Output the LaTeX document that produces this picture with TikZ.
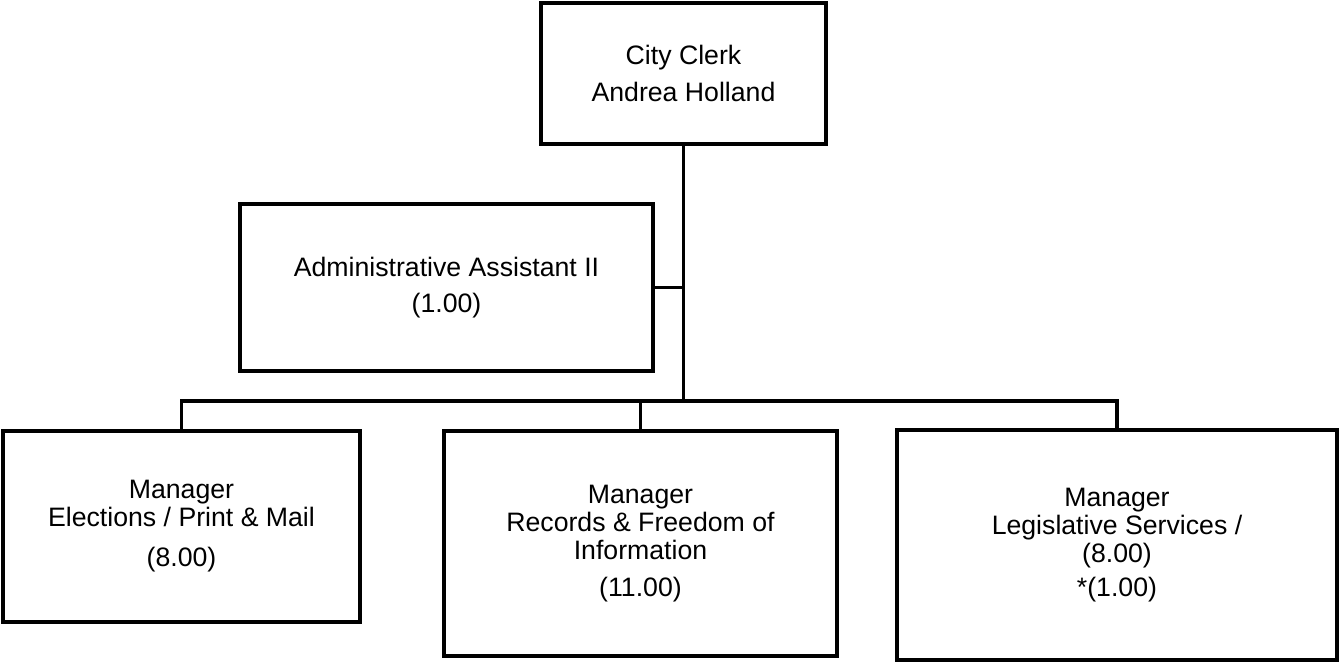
\documentclass[tikz,border=0pt]{standalone}
\usepackage{fontspec}
\setmainfont{Liberation Sans}
\usepackage{tikz}
\usetikzlibrary{positioning,calc}

\begin{document}
\begin{tikzpicture}[
  x=0.75pt, y=-0.75pt,
  post/.style={draw, line width=2.8pt, rectangle, inner sep=0pt, align=center,
    font=\fontsize{20}{21}\selectfont},
  link/.style={line width=2.8pt}]
\useasboundingbox (0,0) rectangle (1340,662);
\node[post, minimum width=213.75pt, minimum height=105.75pt] (clerk) at (683.5,73.5) {City Clerk\\[6.75pt]Andrea Holland};
\node[post, minimum width=309.75pt, minimum height=125.25pt] (admin) at (446.5,287.5) {Administrative Assistant II\\[6pt](1.00)};
\node[post, minimum width=267.75pt, minimum height=143.25pt] (elec) at (181.5,526.5) {Manager\\Elections / Print \& Mail\\[9pt](8.00)};
\node[post, minimum width=294.75pt, minimum height=168.75pt] (rec) at (640.5,543.5) {Manager\\Records \& Freedom of\\Information\\[7pt](11.00)};
\node[post, minimum width=330pt, minimum height=172.5pt] (leg) at (1117,545) {Manager\\Legislative Services /\\(8.00)\\[5pt]*(1.00)};
\coordinate (hub) at (clerk.south |- 0,401);
\draw[link] (clerk.south) -- (hub);
\draw[link] (admin.east) -- (admin.east -| hub);
\draw[link] (elec.north) |- (hub) -| (leg.north);
\draw[link] (rec.north) -- (rec.north |- hub);
\end{tikzpicture}
\end{document}
